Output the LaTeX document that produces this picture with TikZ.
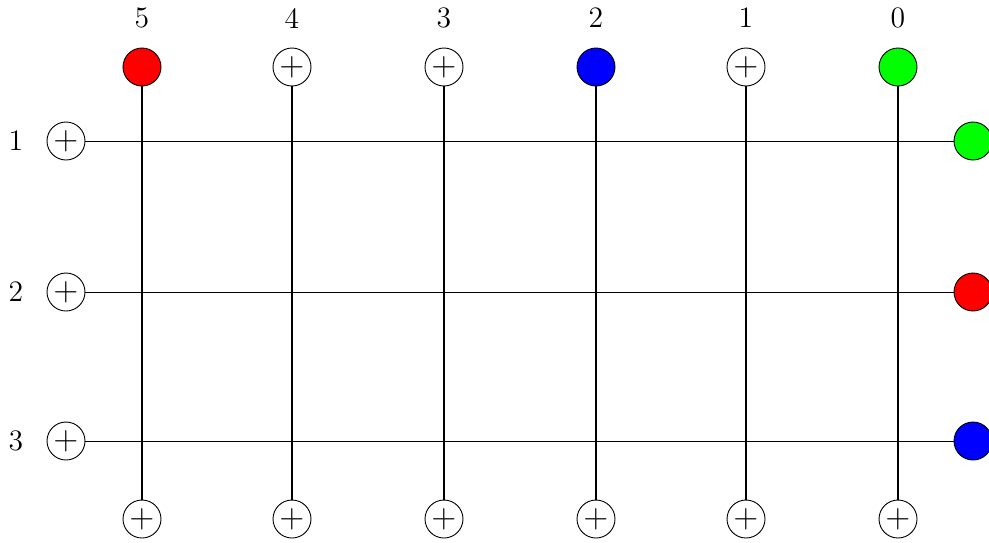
\documentclass[tikz,border=0pt]{standalone}
\usepackage{xcolor}
\usepackage{tikz}
\usetikzlibrary{positioning}
\definecolor{gridRed}{RGB}{255,0,0}
\definecolor{gridBlue}{RGB}{0,0,255}
\definecolor{gridGreen}{RGB}{0,255,0}
\tikzset{
  gridport/.style={circle,draw=black,line width=0.4pt,minimum size=0.585cm,inner sep=0pt,font=\fontsize{13.5}{15}\selectfont},
  gridplus/.style={gridport,fill=white},
  gridred/.style={gridport,fill=gridRed},
  gridblue/.style={gridport,fill=gridBlue},
  gridgreen/.style={gridport,fill=gridGreen},
  gridlabel/.style={font=\fontsize{13}{15}\selectfont,inner sep=0pt},
  gridwire/.style={draw=black,line width=0.4pt},
  gridbar/.style={draw=black,line width=0.8pt},
}

\begin{document}
\begin{tikzpicture}[x=0.0154cm,y=-0.0154cm]
  \useasboundingbox (0,0) rectangle (989,542);

  % Column ports on top and bottom, numbered from the right.
  \foreach \i/\x/\kind/\txt in {5/142/gridred/{},4/292/gridplus/$+$,3/444/gridplus/$+$,
                                2/596/gridblue/{},1/746/gridplus/$+$,0/898/gridgreen/{}}{
    \node[\kind] (top\i) at (\x,67) {\txt};
    \node[gridplus] (bot\i) at (\x,519) {$+$};
    \node[gridlabel] (clab\i) at (\x,18) {\i};
  }

  % Row ports on the left and right.
  \foreach \j/\y/\kind in {1/141/gridgreen,2/292/gridred,3/441/gridblue}{
    \node[gridplus] (left\j) at (66,\y) {$+$};
    \node[\kind] (right\j) at (973,\y) {};
    \node[gridlabel] (rlab\j) at (16,\y) {\j};
  }

  % Horizontal wires first, then the thicker vertical bars over them.
  \foreach \j in {1,2,3}
    \draw[gridwire] (left\j) -- (right\j);
  \foreach \i in {0,...,5}
    \draw[gridbar] (top\i) -- (bot\i);
\end{tikzpicture}
\end{document}
